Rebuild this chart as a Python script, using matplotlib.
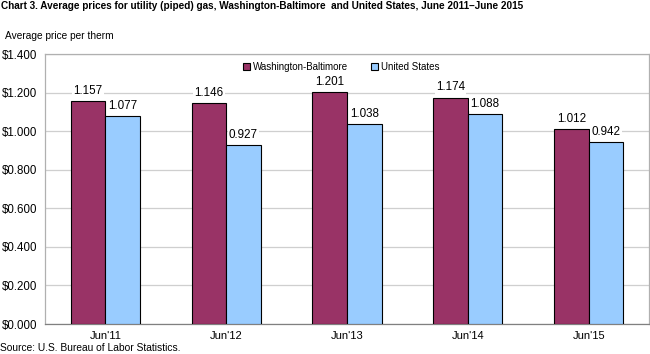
import numpy as np
import matplotlib
matplotlib.use("Agg")
import matplotlib.pyplot as plt

categories = ["Jun'11", "Jun'12", "Jun'13", "Jun'14", "Jun'15"]
wash_balt = [1.157, 1.146, 1.201, 1.174, 1.012]
us = [1.077, 0.927, 1.038, 1.088, 0.942]
yticks = [0.0, 0.2, 0.4, 0.6, 0.8, 1.0, 1.2, 1.4]

plt.rcParams['font.family'] = ['Liberation Sans', 'DejaVu Sans']

fig = plt.figure(figsize=(6.5, 3.54), dpi=100)
# plot box: x 45..649, y 54..324 px
ax = fig.add_axes([45 / 650, 30 / 354, 604 / 650, 270 / 354])

x = np.arange(len(categories))
w = 0.286
b1 = ax.bar(x - w / 2, wash_balt, w, color='#993366', edgecolor='black', linewidth=0.8,
            label='Washington-Baltimore', zorder=3)
b2 = ax.bar(x + w / 2, us, w, color='#99CCFF', edgecolor='black', linewidth=0.8,
            label='United States', zorder=3)

for bars, vals in [(b1, wash_balt), (b2, us)]:
    for r, v in zip(bars, vals):
        ax.text(r.get_x() + r.get_width() / 2, v + 0.022, "%.3f" % v, ha='center', va='bottom',
                fontsize=8.4, zorder=4, bbox=dict(facecolor='white', edgecolor='none', pad=0.8))

ax.set_xlim(-0.5, len(categories) - 0.5)
ax.set_ylim(0, 1.4)
ax.set_yticks(yticks)
ax.set_yticklabels(["$%.3f" % t for t in yticks], fontsize=8.3)
ax.set_xticks(x)
ax.set_xticklabels(categories, fontsize=8)
ax.tick_params(axis='y', length=0, pad=5.5)
ax.tick_params(axis='x', length=0, pad=5)
ax.yaxis.grid(True, color='#cfcfcf', linewidth=0.9, zorder=0)
ax.set_axisbelow(True)
for s in ['top', 'right', 'left']:
    ax.spines[s].set_color('#b0b0b0')
    ax.spines[s].set_linewidth(0.9)
ax.spines['bottom'].set_color('#808080')
ax.spines['bottom'].set_linewidth(0.9)

leg = ax.legend(loc='center', bbox_to_anchor=(0.49, 0.952), ncol=2, frameon=True,
                fontsize=7, handlelength=0.7, handleheight=0.7, handletextpad=0.3,
                columnspacing=2.4, borderpad=0.3, edgecolor='none', framealpha=1)
leg.get_frame().set_facecolor('white')

fig.text(0.002, 0.996, "Chart 3. Average prices for utility (piped) gas, Washington-Baltimore  and United States, June 2011\u2013June 2015",
         fontsize=7.2, fontweight='bold', va='top', ha='left')
fig.text(0.008, 0.898, "Average price per therm", fontsize=7.3, va='center', ha='left')
fig.text(0.0, 0.003, "Source: U.S. Bureau of Labor Statistics.", fontsize=7.4, va='bottom', ha='left')

fig.savefig("out.png", dpi=100)
